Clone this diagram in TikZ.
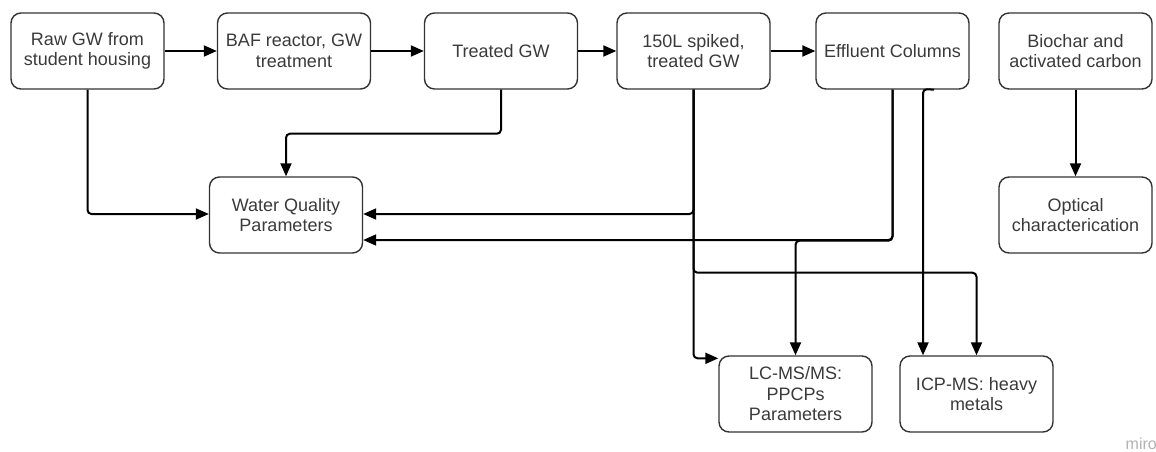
\documentclass[tikz,border=0pt]{standalone}
\usepackage{fontspec}
\setmainfont{Liberation Sans}
\usetikzlibrary{arrows.meta}
\definecolor{boxline}{HTML}{333333}
\definecolor{txt}{HTML}{3A3A3A}
\begin{document}
\begin{tikzpicture}[x=1pt,y=-1pt,
  box/.style={draw=boxline, line width=1.4pt, rounded corners=10pt,
    minimum width=153pt, minimum height=76pt, inner sep=0pt,
    align=center, text=txt, font=\fontsize{18}{20.5}\selectfont},
  conn/.style={draw=black, line width=2pt, rounded corners=4pt,
    -{Triangle[length=13pt,width=11pt]}},
  wm/.style={text=black!30, font=\fontsize{16}{18}\selectfont, inner sep=0pt}]
\useasboundingbox (0,0) rectangle (1156,452);
% nodes
\node[box] (raw)     at (87.5,51)   {Raw GW from\\student housing};
\node[box] (baf)     at (294,51)    {BAF reactor, GW\\treatment};
\node[box] (treated) at (501,51)    {Treated GW};
\node[box] (spiked)  at (693.5,51)  {150L spiked,\\treated GW};
\node[box] (eff)     at (892.5,51)  {Effluent Columns};
\node[box] (bio)     at (1075.5,51) {Biochar and\\activated carbon};
\node[box] (wq)      at (286,215)   {Water Quality\\Parameters};
\node[box] (opt)     at (1075.5,215){Optical\\characterication};
\node[box] (lc)      at (795.5,394) {LC-MS/MS:\\PPCPs\\Parameters};
\node[box] (icp)     at (976.5,394) {ICP-MS: heavy\\metals};
\node[wm, anchor=base east] (miro) at (1157,449) {miro};
% main chain
\draw[conn] (raw) -- (baf);
\draw[conn] (baf) -- (treated);
\draw[conn] (treated) -- (spiked);
\draw[conn] (spiked) -- (eff);
\draw[conn] (bio) -- (opt);
% to water quality
\draw[conn] (raw.south) |- ([yshift=1pt]wq.west);
\draw[conn] (treated.south) -- ++(0,44) -| (wq.north);
\draw[conn] (spiked.south) |- ([yshift=1pt]wq.east);
\draw[conn] (eff.south) |- ([yshift=-25pt]wq.east);
% to LC-MS/MS
\draw[conn] (spiked.south) |- ([yshift=-3pt]lc.north west);
\draw[conn] (eff.south) -- ++(0,151) -| (lc.north);
% to ICP-MS
\draw[conn] (spiked.south) -- ++(0,183) -| (icp.north);
\coordinate (effhook) at ([xshift=41.5pt]eff.south);
\coordinate (effdrop) at (923,89);
\draw[conn] (effhook) -- (effdrop) -- (effdrop |- icp.north);
\end{tikzpicture}
\end{document}
